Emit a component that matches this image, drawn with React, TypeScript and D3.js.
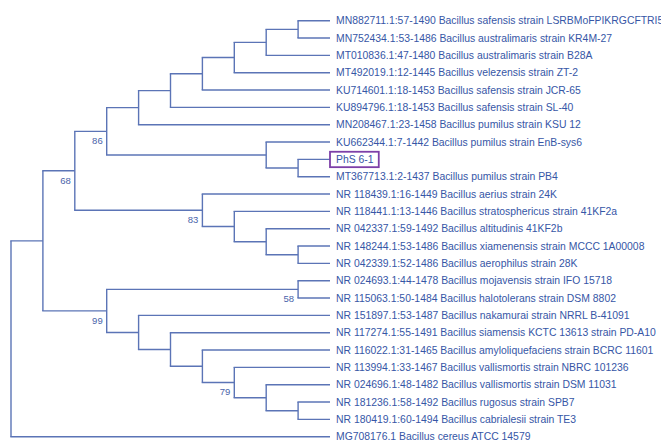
import React, { useEffect, useRef } from "react";
import * as d3 from "d3";

const W = 661;
const H = 440;

const leafNames: string[] = [
  "MN882711.1:57-1490 Bacillus safensis strain LSRBMoFPIKRGCFTRI5",
  "MN752434.1:53-1486 Bacillus australimaris strain KR4M-27",
  "MT010836.1:47-1480 Bacillus australimaris strain B28A",
  "MT492019.1:12-1445 Bacillus velezensis strain ZT-2",
  "KU714601.1:18-1453 Bacillus safensis strain JCR-65",
  "KU894796.1:18-1453 Bacillus safensis strain SL-40",
  "MN208467.1:23-1458 Bacillus pumilus strain KSU 12",
  "KU662344.1:7-1442 Bacillus pumilus strain EnB-sys6",
  "PhS 6-1",
  "MT367713.1:2-1437 Bacillus pumilus strain PB4",
  "NR 118439.1:16-1449 Bacillus aerius strain 24K",
  "NR 118441.1:13-1446 Bacillus stratosphericus strain 41KF2a",
  "NR 042337.1:59-1492 Bacillus altitudinis 41KF2b",
  "NR 148244.1:53-1486 Bacillus xiamenensis strain MCCC 1A00008",
  "NR 042339.1:52-1486 Bacillus aerophilus strain 28K",
  "NR 024693.1:44-1478 Bacillus mojavensis strain IFO 15718",
  "NR 115063.1:50-1484 Bacillus halotolerans strain DSM 8802",
  "NR 151897.1:53-1487 Bacillus nakamurai strain NRRL B-41091",
  "NR 117274.1:55-1491 Bacillus siamensis KCTC 13613 strain PD-A10",
  "NR 116022.1:31-1465 Bacillus amyloliquefaciens strain BCRC 11601",
  "NR 113994.1:33-1467 Bacillus vallismortis strain NBRC 101236",
  "NR 024696.1:48-1482 Bacillus vallismortis strain DSM 11031",
  "NR 181236.1:58-1492 Bacillus rugosus strain SPB7",
  "NR 180419.1:60-1494 Bacillus cabrialesii strain TE3",
  "MG708176.1 Bacillus cereus ATCC 14579",
];

// Topology (leaf indices), bootstrap support written after closing parentheses
const cladeChain = "((((((0,1),2),3),4),5),6)";
const clade86 = "(" + cladeChain + ",(7,(8,9)))86";
const clade83 = "(10,(11,(12,(13,14))))83";
const clade68 = "(" + clade86 + "," + clade83 + ")68";
const clade79 = "(20,(21,(22,23)))79";
const clade99 = "((15,16)58,(17,(18,(19," + clade79 + "))))99";
const treeNewick = "((" + clade68 + "," + clade99 + "),24)";

const highlightedLeaves: string[] = ["PhS 6-1"];

type TNode = { name?: string; support?: string; children?: TNode[] };

function parseNewick(s: string): TNode {
  let i = 0;
  function readLabel(): string {
    let out = "";
    while (i < s.length && !"(),".includes(s[i])) out += s[i++];
    return out.trim();
  }
  function parse(): TNode {
    if (s[i] === "(") {
      i++;
      const children: TNode[] = [];
      children.push(parse());
      while (s[i] === ",") {
        i++;
        children.push(parse());
      }
      i++; // ')'
      const sup = readLabel();
      return { children, support: sup || undefined };
    }
    const lab = readLabel();
    return { name: leafNames[+lab] };
  }
  return parse();
}

export default function App() {
  const ref = useRef<SVGSVGElement | null>(null);

  useEffect(() => {
    const svg = d3.select(ref.current);
    svg.selectAll("*").remove();

    const root = d3.hierarchy<TNode>(parseNewick(treeNewick), (d) => d.children);
    d3.cluster<TNode>().nodeSize([1, 1]).separation(() => 1)(root);

    const leaves = root.leaves();
    const xs = leaves.map((l) => l.x as number);
    const yScale = d3
      .scaleLinear()
      .domain([d3.min(xs) as number, d3.max(xs) as number])
      .range([20.7, 436.7]);
    const depthMax = d3.max(root.descendants(), (d) => d.y as number) as number;
    const xScale = d3.scaleLinear().domain([0, depthMax]).range([11, 330]);

    const lineColor = "#5b74b6";
    const g = svg.append("g");

    // Branches
    root.descendants().forEach((n) => {
      if (!n.children) return;
      const nx = xScale(n.y as number);
      const cy = n.children.map((c) => yScale(c.x as number));
      g.append("line")
        .attr("x1", nx)
        .attr("x2", nx)
        .attr("y1", d3.min(cy) as number)
        .attr("y2", d3.max(cy) as number)
        .attr("stroke", lineColor)
        .attr("stroke-width", 1.4);
      n.children.forEach((c) => {
        g.append("line")
          .attr("x1", nx - 0.7)
          .attr("x2", xScale(c.y as number))
          .attr("y1", yScale(c.x as number))
          .attr("y2", yScale(c.x as number))
          .attr("stroke", lineColor)
          .attr("stroke-width", 1.4);
      });
    });

    // Leaf labels
    leaves.forEach((l) => {
      const ly = yScale(l.x as number);
      const t = g
        .append("text")
        .attr("x", 336)
        .attr("y", ly)
        .attr("dy", "0.36em")
        .attr("fill", "#3656a6")
        .attr("font-family", "'Liberation Sans', Arial, sans-serif")
        .attr("font-size", 10.4)
        .text(l.data.name as string);
      if (highlightedLeaves.includes(l.data.name as string)) {
        const bb = (t.node() as SVGTextElement).getBBox();
        g.append("rect")
          .attr("x", 330)
          .attr("y", ly - 7.6)
          .attr("width", bb.x + bb.width + 5 - 330)
          .attr("height", 15.4)
          .attr("fill", "none")
          .attr("stroke", "#7d3fa8")
          .attr("stroke-width", 1.8);
      }
    });

    // Bootstrap values
    root.descendants().forEach((n) => {
      if (!n.data.support) return;
      g.append("text")
        .attr("x", xScale(n.y as number) - 4)
        .attr("y", yScale(n.x as number) + 9.5)
        .attr("dy", "0.35em")
        .attr("text-anchor", "end")
        .attr("fill", "#4a64aa")
        .attr("font-family", "'Liberation Sans', Arial, sans-serif")
        .attr("font-size", 9.5)
        .text(n.data.support);
    });
  }, []);

  return (
    <svg
      ref={ref}
      width={W}
      height={H}
      style={{ position: "absolute", left: 0, top: 0, background: "#fff" }}
    />
  );
}
